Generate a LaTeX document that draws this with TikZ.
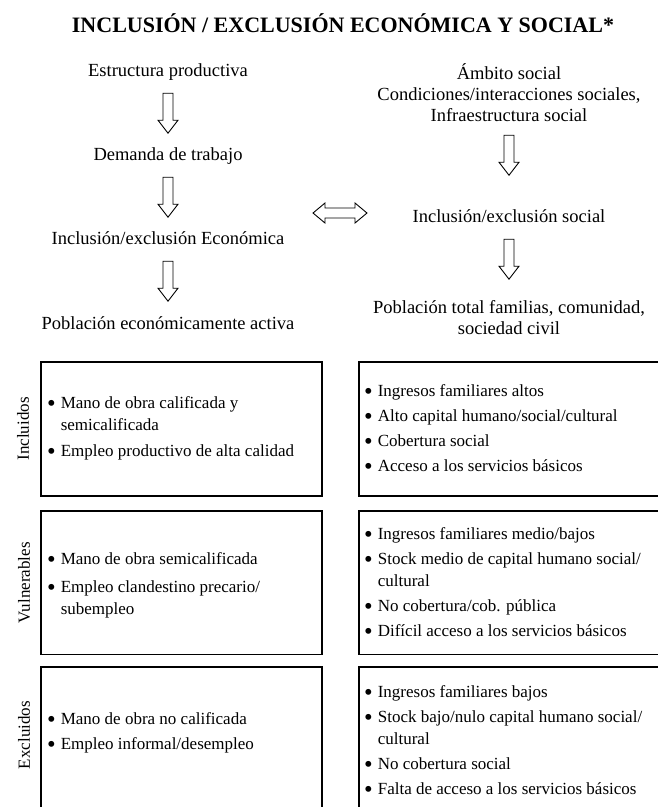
\documentclass[tikz,border=0pt]{standalone}
\usepackage{fontspec}
\setmainfont{Liberation Serif}
\usetikzlibrary{calc,positioning}

\newcommand{\blt}{\raisebox{-3.6pt}{\scalebox{1.45}{\textbullet}}}

\tikzset{
  lbl/.style={font=\fontsize{18.5}{21}\selectfont, inner sep=0pt, align=center},
  one/.style={lbl, anchor=base, text height=13pt, text depth=4pt},
  boxtxt/.style={font=\fontsize{17}{22}\selectfont, inner sep=0pt, anchor=base west},
  box/.style={draw, line width=1.4pt, inner sep=0pt},
  side/.style={font=\fontsize{17}{20}\selectfont, rotate=90, inner sep=0pt},
  hollow/.style={line width=0.9pt, line join=miter,
    to path={let \p1=($(\tikztostart)!13pt!(\tikztotarget)$),
                 \p2=($(\tikztostart)!53pt!(\tikztotarget)$),
                 \p3=($(\tikztostart)!40pt!(\tikztotarget)$) in
      ($(\p1)!5pt!90:(\p2)$) -- ($(\p3)!5pt!-90:(\p1)$) -- ($(\p3)!10pt!-90:(\p1)$)
      -- (\p2) -- ($(\p3)!10pt!90:(\p1)$) -- ($(\p3)!5pt!90:(\p1)$)
      -- ($(\p1)!5pt!-90:(\p2)$) -- cycle}},
  hollowboth/.style={line width=0.9pt, line join=miter,
    to path={let \p1=(\tikztostart), \p2=(\tikztotarget),
                 \p3=($(\tikztostart)!12pt!(\tikztotarget)$),
                 \p4=($(\tikztotarget)!12pt!(\tikztostart)$) in
      (\p1) -- ($(\p3)!10pt!90:(\p2)$) -- ($(\p3)!5pt!90:(\p2)$)
      -- ($(\p4)!5pt!-90:(\p1)$) -- ($(\p4)!10pt!-90:(\p1)$) -- (\p2)
      -- ($(\p4)!10pt!90:(\p1)$) -- ($(\p4)!5pt!90:(\p1)$)
      -- ($(\p3)!5pt!-90:(\p2)$) -- ($(\p3)!10pt!-90:(\p2)$) -- cycle}},
}

\begin{document}
\begin{tikzpicture}[x=1pt,y=-1pt]
\clip (0,0) rectangle (658,807);
% Title
\node[font=\bfseries\fontsize{22}{26}\selectfont, inner sep=0pt] (title) at (343,23)
  {INCLUSIÓN / EXCLUSIÓN ECONÓMICA Y SOCIAL*};
% Economic column
\node[one] (estr) at (168,76) {Estructura productiva};
\node[one] (dem) at (168,160) {Demanda de trabajo};
\node[one] (incec) at (168,244) {Inclusión/exclusión Económica};
\node[one] (pobea) at (168,329) {Población económicamente activa};
\draw[hollow] (estr.south) to (dem.north);
\draw[hollow] (dem.south) to (incec.north);
\draw[hollow] (incec.south) to (pobea.north);
% Social column
\node[lbl] (ambito) at (509,93) {Ámbito social\\Condiciones/interacciones sociales,\\Infraestructura social};
\node[one] (incsoc) at (509,222) {Inclusión/exclusión social};
\node[lbl] (pobtot) at (509,318) {Población total familias, comunidad,\\sociedad civil};
\draw[hollow] (ambito.south) to (incsoc.north);
\draw[hollow] (incsoc.south) to (pobtot.north);
% Two-way link
\coordinate (lnk-l) at (313,213);
\coordinate (lnk-r) at (367,213);
\draw[hollowboth] (lnk-l) to (lnk-r);
% Boxes
\node[box, minimum width=281, minimum height=134] (inc-l) at (181.5,429) {};
\node[box, minimum width=341, minimum height=134] (inc-r) at (529.5,429) {};
\node[box, minimum width=281, minimum height=143.5] (vul-l) at (181.5,582.75) {};
\node[box, minimum width=341, minimum height=143.5] (vul-r) at (529.5,582.75) {};
\node[box, minimum width=281, minimum height=183] (exc-l) at (181.5,758.5) {};
\node[box, minimum width=341, minimum height=183] (exc-r) at (529.5,758.5) {};
% Row labels
\node[side] (lab-inc) at (23,429) {Incluidos};
\node[side] (lab-vul) at (24,582.75) {Vulnerables};
\node[side] (lab-exc) at (24,735) {Excluidos};
% Incluidos
\node[boxtxt] (t-inc-l) at (47,408) {\begin{tabular}[t]{@{}l@{\hspace{5pt}}l@{}}
  \blt & Mano de obra calificada y\\
       & semicalificada\\[4pt]
  \blt & Empleo productivo de alta calidad
\end{tabular}};
\node[boxtxt] (t-inc-r) at (364,396) {\begin{tabular}[t]{@{}l@{\hspace{5pt}}l@{}}
  \blt & Ingresos familiares altos\\[3pt]
  \blt & Alto capital humano/social/cultural\\[3pt]
  \blt & Cobertura social\\[3pt]
  \blt & Acceso a los servicios básicos
\end{tabular}};
% Vulnerables
\node[boxtxt] (t-vul-l) at (47,564) {\begin{tabular}[t]{@{}l@{\hspace{5pt}}l@{}}
  \blt & Mano de obra semicalificada\\[6pt]
  \blt & Empleo clandestino precario/\\
       & subempleo
\end{tabular}};
\node[boxtxt] (t-vul-r) at (364,539) {\begin{tabular}[t]{@{}l@{\hspace{5pt}}l@{}}
  \blt & Ingresos familiares medio/bajos\\[3pt]
  \blt & Stock medio de capital humano social/\\
       & cultural\\[3pt]
  \blt & No cobertura/cob. pública\\[3pt]
  \blt & Difícil acceso a los servicios básicos
\end{tabular}};
% Excluidos
\node[boxtxt] (t-exc-l) at (47,724) {\begin{tabular}[t]{@{}l@{\hspace{5pt}}l@{}}
  \blt & Mano de obra no calificada\\[3pt]
  \blt & Empleo informal/desempleo
\end{tabular}};
\node[boxtxt] (t-exc-r) at (364,697) {\begin{tabular}[t]{@{}l@{\hspace{5pt}}l@{}}
  \blt & Ingresos familiares bajos\\[3pt]
  \blt & Stock bajo/nulo capital humano social/\\
       & cultural\\[3pt]
  \blt & No cobertura social\\[3pt]
  \blt & Falta de acceso a los servicios básicos
\end{tabular}};
\end{tikzpicture}
\end{document}
